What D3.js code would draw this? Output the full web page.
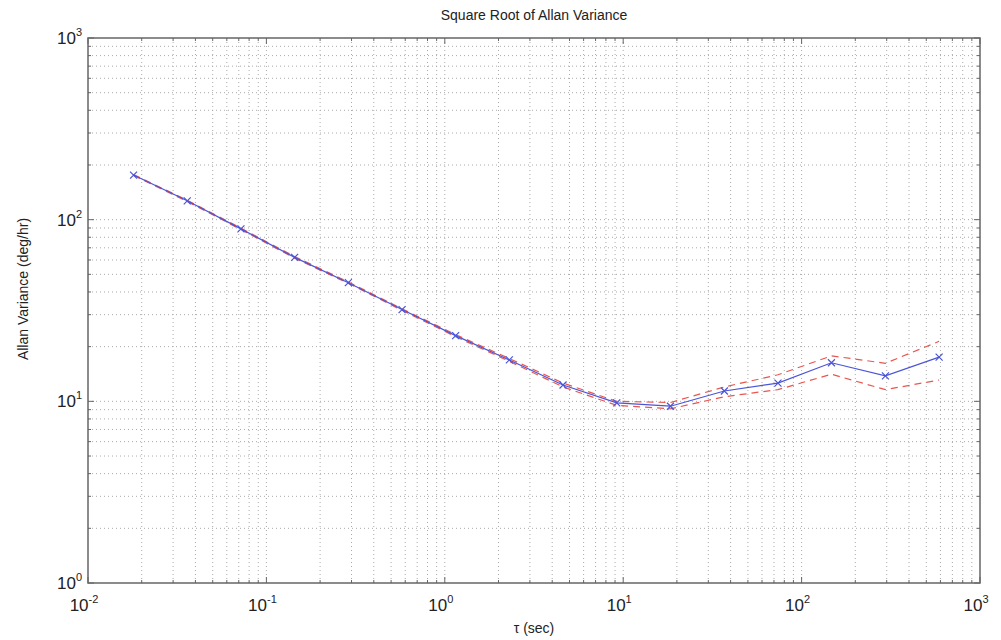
<!DOCTYPE html>
<html>
<head>
<meta charset="utf-8">
<script src="https://cdn.jsdelivr.net/npm/d3@7"></script>
<style>
	body { margin: 0; background: #fff; }
	svg { font-family: "Liberation Sans", Arial, sans-serif; }
	.grid line { stroke: #aaa; stroke-width: 1; stroke-dasharray: 1,3; }
	.frame { fill: none; stroke: #666; stroke-width: 1.5; }
	.tick-mark { stroke: #666; stroke-width: 1; }
</style>
</head>
<body>
<div id="chart"></div>
<script>
// averaging times (sec)
var tau = [0.018, 0.036, 0.072, 0.144, 0.288, 0.576, 1.15, 2.3, 4.6, 9.2, 18.4, 36.9, 73.7, 147, 295, 590];
// root Allan variance (deg/hr) and its error bounds
var sigma = [176, 127, 89, 62, 45, 32, 23, 16.9, 12.3, 9.8, 9.4, 11.4, 12.6, 16.3, 13.8, 17.5];
var sigmaHi = [177, 128, 89.8, 62.6, 45.4, 32.3, 23.3, 17.2, 12.6, 10.0, 9.85, 12.0, 14.0, 17.8, 16.2, 21.4];
var sigmaLo = [175, 126, 88.2, 61.4, 44.6, 31.7, 22.7, 16.6, 12.0, 9.5, 9.1, 10.6, 11.6, 14.1, 11.6, 13.1];
var xDecades = [-2, -1, 0, 1, 2, 3];
var yDecades = [0, 1, 2, 3];

var W = 1001, H = 640;
var margin = { top: 38, right: 21, bot: 57, left: 88 };
var w = W - margin.left - margin.right,
	h = H - margin.top - margin.bot;

var xSc = d3.scaleLog().domain([1e-2, 1e3]).range([0, w]);
var ySc = d3.scaleLog().domain([1, 1e3]).range([h, 0]);

var svg = d3.select("#chart").append("svg").attr("width", W).attr("height", H);
var g = svg.append("g").attr("transform", "translate(" + margin.left + "," + margin.top + ")");

// all major + minor tick values
function logTicks(lo, hi) {
	var arr = [];
	for (var e = lo; e < hi; e++)
		for (var m = 1; m < 10; m++) arr.push(m * Math.pow(10, e));
	arr.push(Math.pow(10, hi));
	return arr;
}
var xTicks = logTicks(-2, 3), yTicks = logTicks(0, 3);
function isMajor(v) { return Math.abs(Math.log10(v) - Math.round(Math.log10(v))) < 1e-6; }

// grid
var grid = g.append("g").classed("grid", true);
grid.selectAll(".gx").data(xTicks.slice(1, -1)).enter().append("line")
	.attr("x1", function(d) { return xSc(d); }).attr("x2", function(d) { return xSc(d); })
	.attr("y1", 0).attr("y2", h);
grid.selectAll(".gy").data(yTicks.slice(1, -1)).enter().append("line")
	.attr("y1", function(d) { return ySc(d); }).attr("y2", function(d) { return ySc(d); })
	.attr("x1", 0).attr("x2", w);

// tick marks on all four sides, inward
var tk = g.append("g");
xTicks.forEach(function(d) {
	var len = isMajor(d) ? 6 : 3, x = xSc(d);
	tk.append("line").classed("tick-mark", true).attr("x1", x).attr("x2", x).attr("y1", h).attr("y2", h - len);
	tk.append("line").classed("tick-mark", true).attr("x1", x).attr("x2", x).attr("y1", 0).attr("y2", len);
});
yTicks.forEach(function(d) {
	var len = isMajor(d) ? 6 : 3, y = ySc(d);
	tk.append("line").classed("tick-mark", true).attr("y1", y).attr("y2", y).attr("x1", 0).attr("x2", len);
	tk.append("line").classed("tick-mark", true).attr("y1", y).attr("y2", y).attr("x1", w).attr("x2", w - len);
});

g.append("rect").classed("frame", true).attr("width", w).attr("height", h);

// tick labels 10^n
xDecades.forEach(function(e) {
	var t = g.append("text").attr("x", xSc(Math.pow(10, e)) - 4).attr("y", h + 28)
		.attr("text-anchor", "middle").style("font-size", "17px").attr("fill", "#222");
	t.append("tspan").text("10");
	t.append("tspan").attr("dy", -8).style("font-size", "11px").text(e);
});
yDecades.forEach(function(e) {
	var t = g.append("text").attr("x", -6).attr("y", ySc(Math.pow(10, e)) + 6)
		.attr("text-anchor", "end").style("font-size", "17px").attr("fill", "#222");
	t.append("tspan").text("10");
	t.append("tspan").attr("dy", -8).style("font-size", "11px").text(e);
});

// data lines
var pts = tau.map(function(d, i) { return { t: d, s: sigma[i], hi: sigmaHi[i], lo: sigmaLo[i] }; });
function line(key) {
	return d3.line().x(function(d) { return xSc(d.t); }).y(function(d) { return ySc(d[key]); });
}
g.append("path").datum(pts).attr("d", line("hi")).attr("fill", "none")
	.attr("stroke", "#e8574f").attr("stroke-width", 1.2).attr("stroke-dasharray", "7,5");
g.append("path").datum(pts).attr("d", line("lo")).attr("fill", "none")
	.attr("stroke", "#e8574f").attr("stroke-width", 1.2).attr("stroke-dasharray", "7,5");
g.append("path").datum(pts).attr("d", line("s")).attr("fill", "none")
	.attr("stroke", "#4a55d8").attr("stroke-width", 1.2);
g.append("g").selectAll("path").data(pts).enter().append("path")
	.attr("transform", function(d) { return "translate(" + xSc(d.t) + "," + ySc(d.s) + ")"; })
	.attr("d", "M-3.5,-3.5L3.5,3.5M-3.5,3.5L3.5,-3.5").attr("stroke", "#4a55d8").attr("stroke-width", 1.2);

// titles
svg.append("text").attr("x", margin.left + w / 2).attr("y", 20).attr("text-anchor", "middle")
	.style("font-size", "14px").attr("fill", "#222").text("Square Root of Allan Variance");
svg.append("text").attr("x", margin.left + w / 2).attr("y", 633).attr("text-anchor", "middle")
	.style("font-size", "14px").attr("fill", "#222").text("τ (sec)");
svg.append("text").attr("transform", "translate(28," + 289 + ") rotate(-90)").attr("text-anchor", "middle")
	.style("font-size", "14px").attr("fill", "#222").text("Allan Variance (deg/hr)");
</script>
</body>
</html>
